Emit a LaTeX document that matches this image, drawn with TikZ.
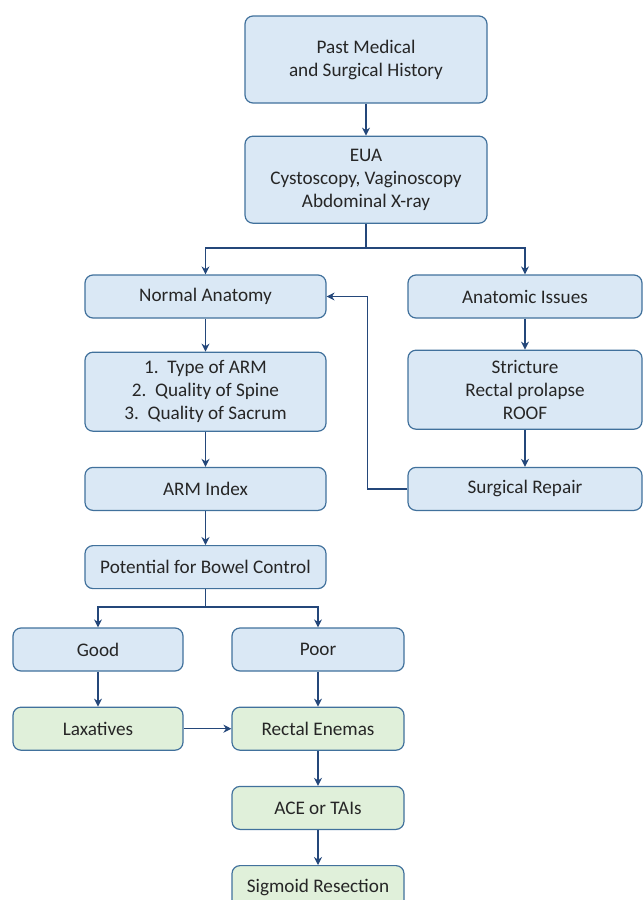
\documentclass[tikz,border=0pt]{standalone}
\usepackage{fontspec}
\setmainfont{Carlito}
\usepackage{xcolor}
\definecolor{boxborder}{HTML}{41719C}
\definecolor{bluefill}{HTML}{DAE8F5}
\definecolor{greenfill}{HTML}{E0F0DA}
\definecolor{linkcolor}{HTML}{24477A}
\usetikzlibrary{positioning,arrows.meta}
\tikzset{
    bluebox/.style={
        rectangle,
        draw=boxborder,
        fill=bluefill,
        text=black!85,
        minimum height=21.5pt,
        minimum width=120.5pt,
        align=center,
        rounded corners=4pt,
        line width=0.6pt,
        font=\fontsize{9.6}{11.5}\selectfont,
    },
    greenbox/.style={
        bluebox,
        fill=greenfill,
        minimum width=86pt,
    },
    tallbox/.style={
        minimum height=39.5pt,
    },
    link/.style={
        ->,
        >={Stealth[length=4pt,width=4pt]},
        line width=0.6pt,
        linkcolor,
    },
}
\begin{document}
\begin{tikzpicture}[x=0.5pt,y=-0.5pt,node distance=16pt]
    \useasboundingbox (0,0) rectangle (643,900);

    % History and examination
    \node[bluebox, tallbox, minimum width=121pt, minimum height=43.5pt] (history) at (366,59.5) {Past Medical\\and Surgical History};
    \node[bluebox, tallbox, minimum width=121pt, minimum height=43.5pt, below=16pt of history] (eua) {EUA\\Cystoscopy, Vaginoscopy\\Abdominal X-ray};

    % Left branch
    \node[bluebox] (normal) at (205.5,296.5) {Normal Anatomy};
    \node[bluebox, tallbox, below=16.5pt of normal] (armtype) {1.\ \ Type of ARM\\2.\ \ Quality of Spine\\3.\ \ Quality of Sacrum};
    \node[bluebox, below=17.5pt of armtype] (armindex) {ARM Index};
    \node[bluebox, below=17pt of armindex] (potential) {Potential for Bowel Control};

    % Right branch
    \node[bluebox, minimum width=117pt] (anatomic) at (525,296.5) {Anatomic Issues};
    \node[bluebox, tallbox, minimum width=117pt, below=15.5pt of anatomic] (stricture) {Stricture\\Rectal prolapse\\ROOF};
    \node[bluebox, minimum width=117pt, below=18.5pt of stricture] (repair) {Surgical Repair};

    % Outcome
    \node[bluebox, minimum width=85pt] (good) at (98,649.5) {Good};
    \node[bluebox, minimum width=86pt] (poor) at (318,649.5) {Poor};
    \node[greenbox, minimum width=85pt, below=17.5pt of good] (laxatives) {Laxatives};
    \node[greenbox, below=17.5pt of poor] (enemas) {Rectal Enemas};
    \node[greenbox, below=17.5pt of enemas] (ace) {ACE or TAIs};
    \node[greenbox, below=17.5pt of ace] (sigmoid) {Sigmoid Resection};

    % Connections
    \coordinate (split1) at (366,248);
    \coordinate (split2) at (205.5,607);
    \draw[link] (history) -- (eua);
    \draw[linkcolor, line width=0.6pt] (eua.south) -- (split1);
    \draw[link] (split1) -| (normal.north);
    \draw[link] (split1) -| (anatomic.north);
    \draw[link] (normal) -- (armtype);
    \draw[link] (armtype) -- (armindex);
    \draw[link] (armindex) -- (potential);
    \draw[link] (anatomic) -- (stricture);
    \draw[link] (stricture) -- (repair);
    \draw[link] (repair.west) -- ++(-40,0) |- (normal.east);
    \draw[linkcolor, line width=0.6pt] (potential.south) -- (split2);
    \draw[link] (split2) -| (good.north);
    \draw[link] (split2) -| (poor.north);
    \draw[link] (good) -- (laxatives);
    \draw[link] (poor) -- (enemas);
    \draw[link] (laxatives) -- (enemas);
    \draw[link] (enemas) -- (ace);
    \draw[link] (ace) -- (sigmoid);
\end{tikzpicture}
\end{document}
